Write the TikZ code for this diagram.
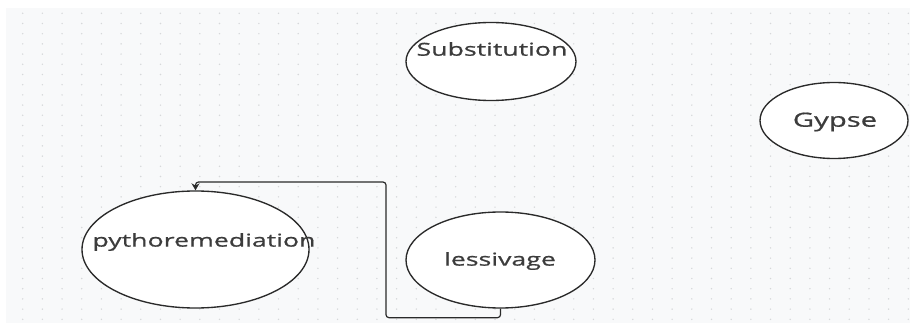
\documentclass[tikz,border=0pt]{standalone}
\usepackage{fontspec}
\usetikzlibrary{shapes.geometric,arrows.meta}
\newfontfamily\lblfont[FakeStretch=1.5,FakeBold=0.8]{Open Sans}
\definecolor{canvas}{HTML}{F8F9FA}
\definecolor{griddot}{HTML}{D6D8DA}
\definecolor{inkline}{HTML}{2A2A2A}
\definecolor{inktext}{HTML}{3C3C3C}
\begin{document}
\begin{tikzpicture}[x=1pt,y=-1pt,
  bubble/.style={ellipse,draw=inkline,line width=1.35pt,fill=white,inner sep=0pt},
  txt/.style={inner sep=0pt,text=inktext,font=\lblfont\fontsize{17.8}{20}\selectfont},
  conn/.style={draw=inkline,line width=1.2pt,rounded corners=3pt,-{Stealth[length=7pt,width=8pt]}}]
  \useasboundingbox (0,0) rectangle (910,323);
  % canvas with dotted grid
  \fill[canvas] (6,8) rectangle (910,323);
  \foreach \i in {0,...,45}{
    \foreach \j in {0,...,30}{
      \fill[griddot] ({22.7+19.68*\i},{13.3+10.2*\j}) circle (0.8pt);
    }
  }
  % shapes
  \node[bubble,minimum width=170pt,minimum height=78pt] (subst) at (491,61.5) {};
  \node[txt] (subst-t) at (492,49) {Substitution};
  \node[bubble,minimum width=148pt,minimum height=76pt] (gypse) at (834,120.5) {};
  \node[txt,font=\lblfont\fontsize{19.5}{22}\selectfont] (gypse-t) at (835,122) {Gypse};
  \node[bubble,minimum width=227pt,minimum height=117pt] (phyto) at (195.5,249.5) {};
  \node[txt] (phyto-t) at (204,242) {pythoremediation};
  \node[bubble,minimum width=189pt,minimum height=96pt] (less) at (500.5,260) {};
  \node[txt] (less-t) at (500,261) {lessivage};
  % connector
  \coordinate (turn) at (386,182);
  \draw[conn] (less.south) -- ++(0,9) -| (turn) -| (phyto.north);
\end{tikzpicture}
\end{document}
